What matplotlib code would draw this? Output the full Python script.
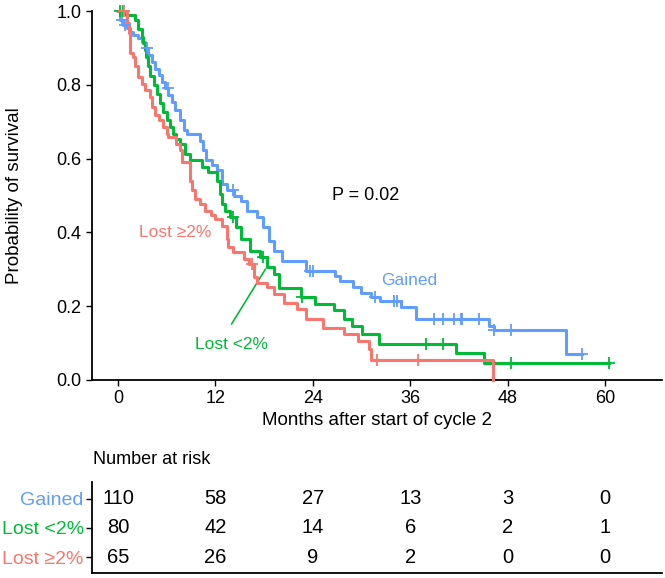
import numpy as np
import matplotlib
matplotlib.use("Agg")
import matplotlib.pyplot as plt

plt.rcParams['font.family'] = ['Liberation Sans', 'DejaVu Sans']

# step curves: event times (months) and survival after each step
gained_t = [0.25, 0.65, 1.07, 1.5, 1.9, 2.5, 2.9, 3.3, 3.7, 4.2, 4.6, 5.0, 5.4, 5.8, 6.2, 6.6,
            7.0, 7.65, 8.1, 8.5, 10.1, 10.5, 10.9, 11.6, 12.2, 12.8, 13.4, 14.3, 15.1, 15.9,
            17.1, 17.9, 18.6, 19.2, 20.2, 23.1, 26.7, 27.4, 28.9, 29.9, 31.1, 32.3, 34.8,
            36.7, 45.7, 46.3, 55.2]
gained_s = [0.976, 0.962, 0.953, 0.944, 0.935, 0.926, 0.917, 0.899, 0.88, 0.862, 0.844, 0.826,
            0.808, 0.79, 0.772, 0.754, 0.731, 0.704, 0.677, 0.668, 0.649, 0.622, 0.595, 0.582,
            0.568, 0.532, 0.514, 0.5, 0.486, 0.459, 0.441, 0.414, 0.378, 0.35, 0.323, 0.296,
            0.282, 0.269, 0.251, 0.237, 0.224, 0.215, 0.197, 0.165, 0.145, 0.135, 0.07]
gained_cens = [0.5, 0.9, 3.6, 6.1, 14.2, 23.7, 24.0, 31.7, 34.0, 34.4, 38.9, 40.0, 41.4, 42.2,
               42.4, 44.5, 46.3, 48.4, 57.2]

lost_lt_t = [1.0, 2.1, 2.5, 2.9, 3.1, 3.3, 3.5, 3.7, 4.0, 4.4, 4.8, 5.2, 5.6, 6.0, 6.4, 6.8,
             7.2, 7.65, 8.3, 8.9, 10.3, 11.1, 12.2, 12.6, 12.8, 13.2, 13.8, 14.5, 15.1, 16.3,
             17.5, 18.4, 19.2, 19.8, 22.5, 24.3, 26.6, 27.8, 28.8, 30.0, 32.2, 41.6, 45.1]
lost_lt_s = [0.988, 0.975, 0.95, 0.93, 0.912, 0.894, 0.876, 0.85, 0.825, 0.8, 0.775, 0.75,
             0.725, 0.704, 0.686, 0.668, 0.654, 0.64, 0.613, 0.595, 0.577, 0.563, 0.54, 0.504,
             0.477, 0.459, 0.441, 0.414, 0.383, 0.35, 0.332, 0.305, 0.287, 0.25, 0.225, 0.207,
             0.19, 0.165, 0.145, 0.125, 0.097, 0.072, 0.047]
lost_lt_cens = [0.2, 0.6, 14.2, 17.9, 22.7, 37.9, 40.0, 48.4, 60.5]

lost_ge_t = [1.07, 1.3, 1.5, 1.9, 2.1, 2.5, 2.9, 3.3, 4.0, 4.2, 4.6, 5.0, 5.6, 6.0, 6.2, 7.2,
             7.65, 7.9, 8.9, 9.1, 9.5, 10.1, 10.7, 11.4, 12.0, 12.8, 13.4, 13.6, 14.2, 15.5,
             16.1, 16.7, 17.1, 18.4, 19.2, 20.4, 22.0, 23.1, 25.3, 27.8, 29.5, 30.9, 31.2, 46.2]
lost_ge_s = [0.967, 0.94, 0.885, 0.876, 0.85, 0.821, 0.803, 0.785, 0.767, 0.74, 0.717, 0.704,
             0.686, 0.667, 0.658, 0.64, 0.622, 0.59, 0.54, 0.514, 0.491, 0.477, 0.459, 0.446,
             0.437, 0.418, 0.382, 0.36, 0.346, 0.328, 0.314, 0.278, 0.264, 0.251, 0.233, 0.21,
             0.192, 0.165, 0.142, 0.124, 0.106, 0.083, 0.055, 0.0]
lost_ge_cens = [0.7, 16.5, 31.9, 36.9]

groups = ["Gained", "Lost <2%", "Lost \u22652%"]
colors = ["#619CFF", "#00BA38", "#F8766D"]

risk_times = [0, 12, 24, 36, 48, 60]
risk_gained = [110, 58, 27, 13, 3, 0]
risk_lost_lt = [80, 42, 14, 6, 2, 1]
risk_lost_ge = [65, 26, 9, 2, 0, 0]

curves = [(gained_t, gained_s, gained_cens, 57.2),
          (lost_lt_t, lost_lt_s, lost_lt_cens, 60.5),
          (lost_ge_t, lost_ge_s, lost_ge_cens, 46.2)]

fig = plt.figure(figsize=(6.65, 5.78), dpi=100)
ax = fig.add_axes([92/665, 1-380/578, 570/665, 369/578])

for (t, s, cens, tend), col in zip(curves, colors):
    tt = np.r_[0.0, t, tend]
    ss = np.r_[1.0, s, s[-1]]
    ax.step(tt, ss, where='post', color=col, lw=2.2, clip_on=False, zorder=3)
    ct = np.array(cens)
    idx = np.searchsorted(tt, ct, side='right') - 1
    ax.plot(ct, ss[idx], '+', color=col, ms=8, mew=1.3, clip_on=False, zorder=4)

ax.set_xlim(-3.2, 67)
ax.set_ylim(0, 1.0)
ax.set_xticks(risk_times)
ax.set_yticks([0, 0.2, 0.4, 0.6, 0.8, 1.0])
ax.set_yticklabels(["0.0", "0.2", "0.4", "0.6", "0.8", "1.0"])
ax.tick_params(labelsize=13, direction='out', length=4, width=1, colors='black')
ax.spines['top'].set_visible(False)
ax.spines['right'].set_visible(False)
for sp in ['left', 'bottom']:
    ax.spines[sp].set_linewidth(1.3)
ax.set_xlabel("Months after start of cycle 2", fontsize=13.5, labelpad=3)
ax.set_ylabel("Probability of survival", fontsize=13.5, labelpad=24)

ax.text(30.5, 0.5, "P = 0.02", fontsize=13, ha='center', va='center')
ax.text(35.9, 0.27, "Gained", fontsize=12.5, color=colors[0], ha='center', va='center')
ax.text(7.0, 0.40, "Lost \u22652%", fontsize=12.5, color=colors[2], ha='center', va='center')
ax.text(14.0, 0.095, "Lost <2%", fontsize=12.5, color=colors[1], ha='center', va='center')
ax.plot([14.0, 18.15], [0.152, 0.30], color=colors[1], lw=1.2)

# number at risk table
tab = fig.add_axes([92/665, 1-573/578, 570/665, 91/578])
tab.set_xlim(-3.2, 67)
tab.set_ylim(0.45, 3.58)
for row, vals in zip([3, 2, 1], [risk_gained, risk_lost_lt, risk_lost_ge]):
    for x, v in zip(risk_times, vals):
        tab.text(x, row, str(v), fontsize=14.5, ha='center', va='center')
tab.set_xticks([])
tab.set_yticks([3, 2, 1])
tab.set_yticklabels(groups, fontsize=14)
for lab, col in zip(tab.get_yticklabels(), colors):
    lab.set_color(col)
tab.tick_params(axis='y', direction='out', length=4, width=1, pad=2)
tab.spines['top'].set_visible(False)
tab.spines['right'].set_visible(False)
for sp in ['left', 'bottom']:
    tab.spines[sp].set_linewidth(1.3)
fig.text(93/665, 1-460/578, "Number at risk", fontsize=13, ha='left', va='center')

fig.savefig("out.png", dpi=100)
